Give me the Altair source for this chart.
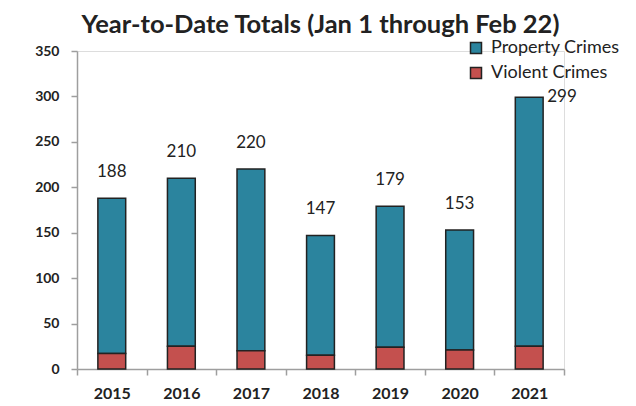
import altair as alt
import pandas as pd

years = ["2015", "2016", "2017", "2018", "2019", "2020", "2021"]
totals = [188, 210, 220, 147, 179, 153, 299]
violent = [17, 25, 20, 15, 24, 21, 25]
series = ["Property Crimes", "Violent Crimes"]
colors = ["#2B849E", "#C4504E"]
y_ticks = [0, 50, 100, 150, 200, 250, 300, 350]

prop = [t - v for t, v in zip(totals, violent)]

rows = []
for yr, p, v in zip(years, prop, violent):
    rows.append({"year": yr, "series": "Property Crimes", "value": p, "ord": 1})
    rows.append({"year": yr, "series": "Violent Crimes", "value": v, "ord": 0})
bars_df = pd.DataFrame(rows)
tot_df = pd.DataFrame({"year": years, "total": totals})

FONT = "Lato"
AX = "#9E9E9E"
TXT = "#222222"

x_enc = alt.X(
    "year:N", sort=years,
    scale=alt.Scale(paddingInner=0, paddingOuter=0),
    axis=alt.Axis(title=None, tickBand="extent", labelAngle=0, labelFont=FONT,
                  labelFontWeight="bold", labelFontSize=16, labelColor=TXT,
                  labelPadding=10, tickSize=6, tickColor=AX, domainColor=AX,
                  tickWidth=1.5, domainWidth=1.5),
)
y_scale = alt.Scale(domain=[0, 350], nice=False)
y_axis = alt.Axis(title=None, values=y_ticks, grid=False, labelFont=FONT,
                  labelFontWeight="bold", labelFontSize=14, labelColor=TXT,
                  labelPadding=12, tickSize=6, tickColor=AX, domainColor=AX,
                  tickWidth=1.5, domainWidth=1.5)

bars = alt.Chart(bars_df).mark_bar(
    stroke="#222222", strokeWidth=1.5, width=alt.RelativeBandSize(0.4)
).encode(
    x=x_enc,
    y=alt.Y("value:Q", stack="zero", scale=y_scale, axis=y_axis, title=None),
    color=alt.Color("series:N", scale=alt.Scale(domain=series, range=colors),
                    legend=alt.Legend(title=None, orient="none", legendX=390, legendY=-12,
                                      symbolType="square", symbolSize=121,
                                      symbolStrokeColor="#222222", symbolStrokeWidth=1.5,
                                      labelFont=FONT, labelFontSize=18, labelColor=TXT,
                                      labelOffset=6, rowPadding=7, padding=0)),
    order=alt.Order("ord:Q"),
)

labels = alt.Chart(tot_df).transform_filter(alt.datum.year != "2021").mark_text(
    font=FONT, fontSize=17, color=TXT, baseline="alphabetic", dy=-21
).encode(
    x=alt.X("year:N", sort=years, title=None),
    y=alt.Y("total:Q", scale=y_scale, title=None),
    text="total:Q",
)

label_last = alt.Chart(tot_df).transform_filter(alt.datum.year == "2021").mark_text(
    font=FONT, fontSize=17, color=TXT, align="left", baseline="middle", dx=18, dy=0
).encode(
    x=alt.X("year:N", sort=years, title=None),
    y=alt.Y("total:Q", scale=y_scale, title=None),
    text="total:Q",
)

chart = alt.layer(bars, labels, label_last).properties(
    width=487, height=318,
    title=alt.TitleParams("Year-to-Date Totals (Jan 1 through Feb 22)", font=FONT,
                          fontSize=25.5, fontWeight="bold", color=TXT,
                          anchor="middle", offset=0, dy=-1),
    autosize=alt.AutoSizeParams(type="none"),
    padding={"left": 69, "top": 43, "right": 64, "bottom": 37},
).configure_view(stroke=None).configure(background="white")

chart.save("out.html", embed_options={"renderer": "svg", "actions": False})
